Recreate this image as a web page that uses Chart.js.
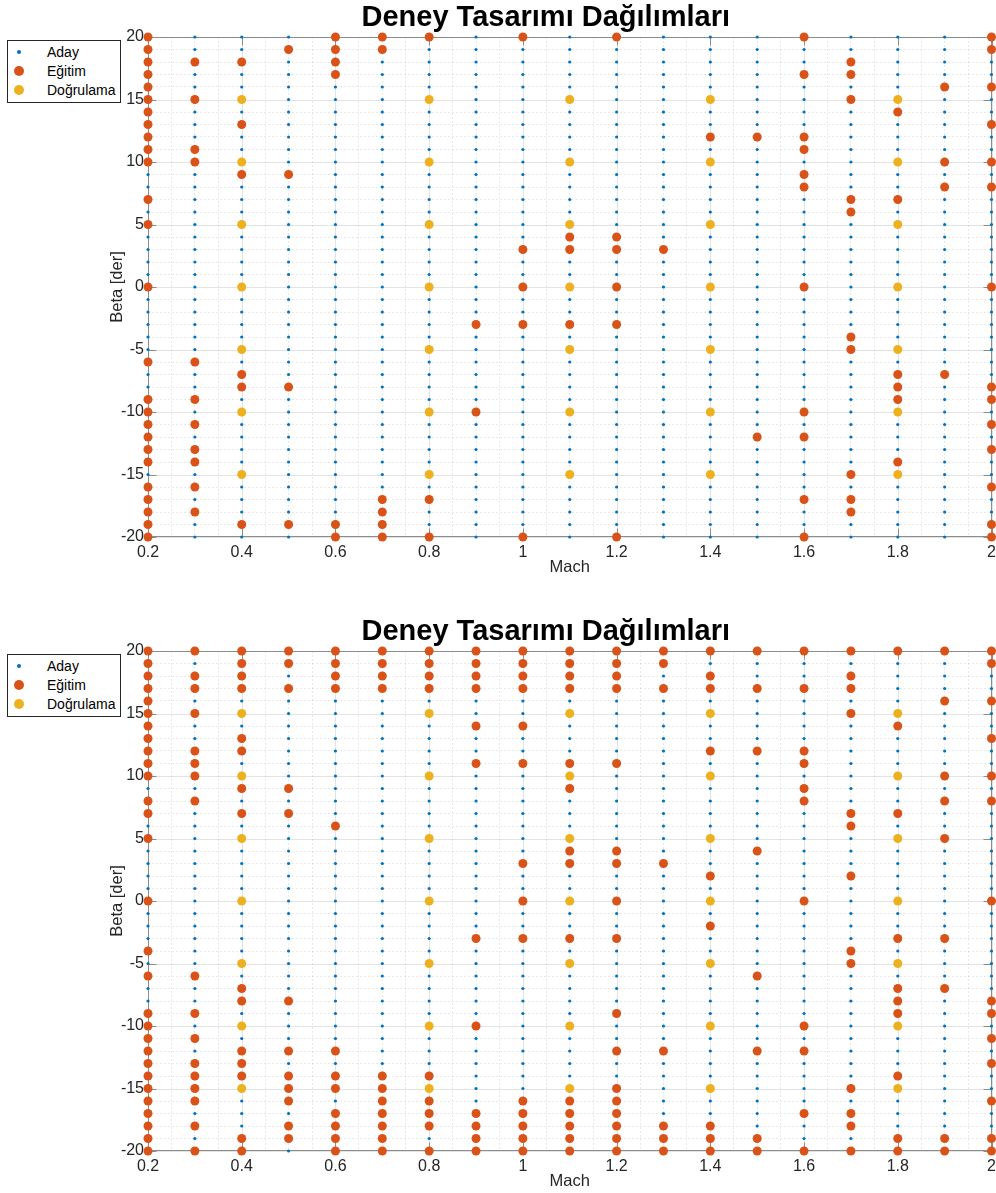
<!DOCTYPE html>
<html>
<head>
<meta charset="utf-8">
<script src="https://cdn.jsdelivr.net/npm/chart.js@4.4.1/dist/chart.umd.min.js"></script>
<style>
  html, body { margin: 0; padding: 0; background: #fff; }
  body { width: 996px; height: 1193px; position: relative; overflow: hidden; font-family: "Liberation Sans", Arial, sans-serif; }
  .panel { position: absolute; left: 0; width: 996px; }
  .lejant { position: absolute; left: 7px; width: 112px; height: 61px; border: 1px solid #262626; background: #fff; font-size: 14px; color: #000; }
  .satir { position: absolute; left: 0; width: 100%; height: 20px; }
  .satir span.nokta { position: absolute; border-radius: 50%; }
  .satir span.yazi { position: absolute; left: 39px; top: 0; line-height: 20px; white-space: nowrap; }
</style>
</head>
<body>
<div class="panel" style="top:0;height:614px"><canvas id="ust" width="996" height="614"></canvas></div>
<div class="panel" style="top:614px;height:579px"><canvas id="alt" width="996" height="579"></canvas></div>

<div class="lejant" style="top:40px">
  <div class="satir" style="top:1px"><span class="nokta" style="left:9px;top:8px;width:4px;height:4px;background:#0072BD"></span><span class="yazi">Aday</span></div>
  <div class="satir" style="top:20px"><span class="nokta" style="left:6px;top:5px;width:10px;height:10px;background:#D95319"></span><span class="yazi">Eğitim</span></div>
  <div class="satir" style="top:39px"><span class="nokta" style="left:6px;top:5px;width:10px;height:10px;background:#EDB120"></span><span class="yazi">Doğrulama</span></div>
</div>
<div class="lejant" style="top:654px">
  <div class="satir" style="top:1px"><span class="nokta" style="left:9px;top:8px;width:4px;height:4px;background:#0072BD"></span><span class="yazi">Aday</span></div>
  <div class="satir" style="top:20px"><span class="nokta" style="left:6px;top:5px;width:10px;height:10px;background:#D95319"></span><span class="yazi">Eğitim</span></div>
  <div class="satir" style="top:39px"><span class="nokta" style="left:6px;top:5px;width:10px;height:10px;background:#EDB120"></span><span class="yazi">Doğrulama</span></div>
</div>

<script>
// Veri: aday ızgarası, eğitim ve doğrulama noktaları
const mach = [0.2, 0.3, 0.4, 0.5, 0.6, 0.7, 0.8, 0.9, 1.0, 1.1, 1.2, 1.3, 1.4, 1.5, 1.6, 1.7, 1.8, 1.9, 2.0];
const betaAday = [20, 19, 18, 17, 16, 15, 14, 13, 12, 11, 10, 9, 8, 7, 6, 5, 4, 3, 2, 1, 0,
  -1, -2, -3, -4, -5, -6, -7, -8, -9, -10, -11, -12, -13, -14, -15, -16, -17, -18, -19, -20];
const dogrulamaMach = [0.4, 0.8, 1.1, 1.4, 1.8];
const dogrulamaBeta = [15, 10, 5, 0, -5, -10, -15];

// her satır bir Mach değerine ait eğitim beta değerleri
const egitimUst = [
  [20, 19, 18, 17, 16, 15, 14, 13, 12, 11, 10, 7, 5, 0, -6, -9, -10, -11, -12, -13, -14, -16, -17, -18, -19, -20],
  [18, 15, 11, 10, -6, -9, -11, -13, -14, -16, -18],
  [18, 13, 9, -7, -8, -19],
  [19, 9, -8, -19],
  [20, 19, 18, 17, -19, -20],
  [20, 19, -17, -18, -19, -20],
  [20, -17, -20],
  [-3, -10],
  [20, 3, 0, -3, -20],
  [4, 3, -3],
  [20, 4, 3, 0, -3, -20],
  [3],
  [12],
  [12, -12],
  [20, 17, 12, 11, 9, 8, 0, -10, -12, -17, -20],
  [18, 17, 15, 7, 6, -4, -5, -15, -17, -18],
  [14, 7, -7, -8, -9, -14],
  [16, 10, 8, -7],
  [20, 19, 16, 13, 10, 8, 0, -8, -9, -11, -13, -16, -19, -20]
];
const egitimAlt = [
  [20, 19, 18, 17, 16, 15, 14, 13, 12, 11, 10, 8, 7, 5, 0, -4, -6, -9, -10, -11, -12, -13, -14, -15, -16, -17, -18, -19, -20],
  [20, 18, 17, 15, 12, 11, 10, 8, -6, -9, -11, -13, -14, -15, -16, -18, -20],
  [20, 19, 18, 17, 13, 12, 9, 7, -7, -8, -12, -13, -14, -19, -20],
  [20, 19, 17, 9, 7, -8, -12, -14, -15, -16, -18, -19],
  [20, 19, 18, 17, 6, -12, -14, -15, -17, -18, -19, -20],
  [20, 19, 18, 17, -14, -15, -16, -17, -18, -19, -20],
  [20, 19, 18, 17, -14, -16, -17, -18, -20],
  [20, 19, 18, 17, 14, 11, -3, -10, -17, -18, -19, -20],
  [20, 19, 18, 17, 14, 11, 3, 0, -3, -16, -17, -18, -19, -20],
  [20, 19, 18, 17, 11, 9, 4, 3, -3, -16, -17, -18, -19, -20],
  [20, 19, 18, 17, 11, 4, 3, 0, -3, -9, -12, -15, -16, -17, -18, -19, -20],
  [20, 19, 17, 3, -12, -18, -19, -20],
  [20, 18, 17, 12, 2, -2, -18, -19, -20],
  [20, 17, 12, 4, -6, -12, -19, -20],
  [20, 17, 12, 11, 9, 8, 0, -10, -12, -17, -20],
  [20, 18, 17, 15, 7, 6, 2, -4, -5, -15, -17, -18, -20],
  [20, 14, 7, -3, -7, -8, -9, -14, -19, -20],
  [20, 16, 10, 8, 5, -3, -7, -19, -20],
  [20, 19, 16, 13, 10, 8, 0, -8, -9, -11, -13, -16, -19, -20]
];

const xEtiketleri = [0.2, 0.4, 0.6, 0.8, 1, 1.2, 1.4, 1.6, 1.8, 2];
const yEtiketleri = [-20, -15, -10, -5, 0, 5, 10, 15, 20];

const YAZI = '"Liberation Sans", Arial, sans-serif';

function izgara(xs, ys) {
  const p = [];
  xs.forEach(x => ys.forEach(y => p.push({ x: x, y: y })));
  return p;
}

function egitimNoktalari(tablo) {
  const p = [];
  tablo.forEach((betalar, i) => betalar.forEach(b => p.push({ x: mach[i], y: b })));
  return p;
}

function etiketBul(liste, v) {
  return liste.find(t => Math.abs(t - v) < 1e-6);
}

// MATLAB tarzı kutu, ana ızgara ve içe dönük çentikler
const eksenKutusu = {
  id: 'eksenKutusu',
  afterLayout(chart) {
    // başlık çizim alanının biraz solunda ortalanmış
    if (chart.titleBlock) chart.titleBlock.left -= 48;
  },
  beforeDatasetsDraw(chart) {
    const { ctx, chartArea: a, scales: { x, y } } = chart;
    const L = 8;
    ctx.save();
    ctx.lineWidth = 1;
    ctx.strokeStyle = 'rgba(38,38,38,0.13)';
    ctx.beginPath();
    xEtiketleri.forEach(v => {
      const px = Math.round(x.getPixelForValue(v)) + 0.5;
      ctx.moveTo(px, a.top); ctx.lineTo(px, a.bottom);
    });
    yEtiketleri.forEach(v => {
      const py = Math.round(y.getPixelForValue(v)) + 0.5;
      ctx.moveTo(a.left, py); ctx.lineTo(a.right, py);
    });
    ctx.stroke();

    ctx.strokeStyle = '#8c8c8c';
    ctx.beginPath();
    const l = Math.round(a.left) + 0.5, r = Math.round(a.right) - 0.5;
    const t = Math.round(a.top) + 0.5, b = Math.round(a.bottom) - 0.5;
    ctx.rect(l, t, r - l, b - t);
    xEtiketleri.forEach(v => {
      const px = Math.round(x.getPixelForValue(v)) + 0.5;
      ctx.moveTo(px, b); ctx.lineTo(px, b - L);
      ctx.moveTo(px, t); ctx.lineTo(px, t + L);
    });
    yEtiketleri.forEach(v => {
      const py = Math.round(y.getPixelForValue(v)) + 0.5;
      ctx.moveTo(l, py); ctx.lineTo(l + L, py);
      ctx.moveTo(r, py); ctx.lineTo(r - L, py);
    });
    ctx.stroke();
    ctx.restore();
  }
};

function grafikCiz(id, tablo, altBosluk) {
  return new Chart(document.getElementById(id), {
    type: 'scatter',
    data: {
      datasets: [
        { label: 'Aday', data: izgara(mach, betaAday), backgroundColor: '#0072BD',
          pointRadius: 1.6, borderWidth: 0, order: 3, clip: false },
        { label: 'Eğitim', data: egitimNoktalari(tablo), backgroundColor: '#D95319',
          pointRadius: 4.5, borderWidth: 0, order: 2, clip: false },
        { label: 'Doğrulama', data: izgara(dogrulamaMach, dogrulamaBeta), backgroundColor: '#EDB120',
          pointRadius: 4.5, borderWidth: 0, order: 1, clip: false }
      ]
    },
    options: {
      responsive: false,
      animation: false,
      devicePixelRatio: 1,
      layout: { padding: { left: 0, right: 3, top: 0, bottom: altBosluk } },
      plugins: {
        legend: { display: false },
        tooltip: { enabled: false },
        title: {
          display: true,
          text: 'Deney Tasarımı Dağılımları',
          fullSize: false,
          color: '#000',
          font: { family: YAZI, size: 29, weight: 'bold', lineHeight: 1.2 },
          padding: { top: 1, bottom: 1.2 }
        }
      },
      scales: {
        x: {
          type: 'linear', min: 0.2, max: 2,
          afterFit(s) { s.height = 42; s.paddingLeft = 0; s.paddingRight = 0; },
          ticks: {
            stepSize: 0.05, autoSkip: false, maxRotation: 0, minRotation: 0, maxTicksLimit: 200,
            padding: 6, color: '#262626', font: { family: YAZI, size: 16 },
            callback: v => { const t = etiketBul(xEtiketleri, v); return t === undefined ? '' : String(t); }
          },
          grid: {
            drawTicks: false,
            color: c => (c.tick && etiketBul(xEtiketleri, c.tick.value) === undefined) ? 'rgba(38,38,38,0.10)' : 'rgba(0,0,0,0)'
          },
          border: { display: false, dash: [2, 2] },
          title: { display: true, text: 'Mach', color: '#262626',
                   font: { family: YAZI, size: 16.5 }, padding: { top: 0, bottom: 2 } }
        },
        y: {
          type: 'linear', min: -20, max: 20,
          afterFit(s) { s.width = 148; },
          ticks: {
            stepSize: 1, autoSkip: false, maxTicksLimit: 200,
            padding: 4, color: '#262626', font: { family: YAZI, size: 16 },
            callback: v => { const t = etiketBul(yEtiketleri, v); return t === undefined ? '' : String(t); }
          },
          grid: {
            drawTicks: false,
            color: c => (c.tick && etiketBul(yEtiketleri, c.tick.value) === undefined) ? 'rgba(38,38,38,0.10)' : 'rgba(0,0,0,0)'
          },
          border: { display: false, dash: [2, 2] },
          title: { display: true, text: 'Beta [der]', color: '#262626',
                   font: { family: YAZI, size: 16.5 }, padding: { top: 108, bottom: 0 } }
        }
      }
    },
    plugins: [eksenKutusu]
  });
}

grafikCiz('ust', egitimUst, 35);
grafikCiz('alt', egitimAlt, 0);
</script>
</body>
</html>
